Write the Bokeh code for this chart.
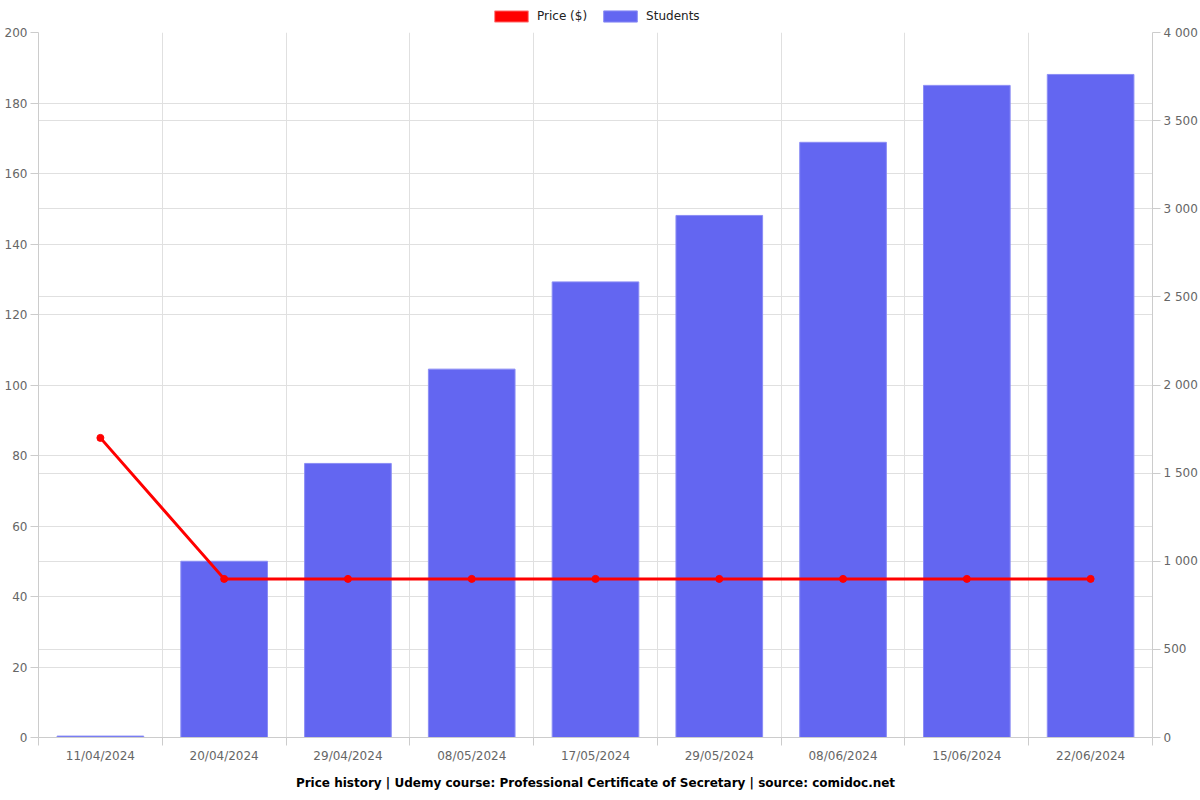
from bokeh.plotting import figure
from bokeh.layouts import column
from bokeh.models import (Range1d, LinearAxis, FixedTicker, Grid, Legend, LegendItem,
                          ColumnDataSource, Title)
from bokeh.embed import file_html
from bokeh.resources import INLINE

dates = ["11/04/2024", "20/04/2024", "29/04/2024", "08/05/2024", "17/05/2024",
         "29/05/2024", "08/06/2024", "15/06/2024", "22/06/2024"]
price = [85, 45, 45, 45, 45, 45, 45, 45, 45]
students = [8, 1000, 1555, 2090, 2585, 2962, 3377, 3700, 3762]
left_ticks = [0, 20, 40, 60, 80, 100, 120, 140, 160, 180, 200]
right_ticks = [0, 500, 1000, 1500, 2000, 2500, 3000, 3500, 4000]
right_labels = ["0", "500", "1 000", "1 500", "2 000", "2 500", "3 000", "3 500", "4 000"]

FONT = "DejaVu Sans"
GRID = "#e0e0e0"
AXIS = "#cccccc"
LABEL = "#666666"
FS = "12px"
PRICE_COLOR = "#FF0000"
BAR_COLOR = "#6366F1"

n = len(dates)
centers = [i + 0.5 for i in range(n)]
src = ColumnDataSource(dict(x=centers, price=price, students=students))

p = figure(width=1200, height=776, output_backend="svg", toolbar_location=None,
           x_range=Range1d(0, n), y_range=Range1d(0, 200),
           min_border_left=38, min_border_right=48, min_border_top=8, min_border_bottom=63)
p.extra_y_ranges = {"right": Range1d(0, 4000)}
p.outline_line_color = None
p.background_fill_color = "white"

bars = p.vbar(x="x", top="students", width=0.70, source=src, y_range_name="right",
              fill_color=BAR_COLOR, line_color="#8b8df5", line_width=1)
line = p.line(x="x", y="price", source=src, line_color=PRICE_COLOR, line_width=3)
p.scatter(x="x", y="price", source=src, size=7, fill_color=PRICE_COLOR, line_color=PRICE_COLOR)

# x axis
xa = p.xaxis[0]
xa.ticker = FixedTicker(ticks=centers, minor_ticks=list(range(n + 1)))
xa.major_label_overrides = {c: d for c, d in zip(centers, dates)}
xa.major_tick_line_color = None
xa.major_tick_out = 8
xa.minor_tick_line_color = AXIS
xa.minor_tick_out = 8
xa.minor_tick_in = 0
xa.axis_line_color = AXIS
xa.major_label_text_font = FONT
xa.major_label_text_font_size = FS
xa.major_label_text_color = LABEL
xa.major_label_standoff = 3

# left axis
ya = p.yaxis[0]
ya.ticker = FixedTicker(ticks=left_ticks)
ya.axis_line_color = AXIS
ya.major_tick_line_color = AXIS
ya.major_tick_out = 8
ya.major_tick_in = 0
ya.minor_tick_line_color = None
ya.major_label_text_font = FONT
ya.major_label_text_font_size = FS
ya.major_label_text_color = LABEL
ya.major_label_standoff = 3

# right axis
ra = LinearAxis(y_range_name="right", ticker=FixedTicker(ticks=right_ticks))
ra.major_label_overrides = {t: l for t, l in zip(right_ticks, right_labels)}
ra.axis_line_color = AXIS
ra.major_tick_line_color = AXIS
ra.major_tick_out = 8
ra.major_tick_in = 0
ra.minor_tick_line_color = None
ra.major_label_text_font = FONT
ra.major_label_text_font_size = FS
ra.major_label_text_color = LABEL
ra.major_label_standoff = 3
p.add_layout(ra, "right")

# grids
p.xgrid.ticker = FixedTicker(ticks=list(range(n + 1)))
p.xgrid.grid_line_color = GRID
p.ygrid.grid_line_color = GRID
p.add_layout(Grid(dimension=1, ticker=FixedTicker(ticks=right_ticks), y_range_name="right",
                  grid_line_color=GRID))

title = Title(text="Price history | Udemy course: Professional Certificate of Secretary | source: comidoc.net",
              align="center", text_font=FONT, text_font_size=FS, text_font_style="bold",
              text_color="#000000", standoff=16, offset=0)
p.add_layout(title, "below")

# legend strip above the chart
lf = figure(width=1200, height=24, output_backend="svg", toolbar_location=None,
            x_range=Range1d(0, 1), y_range=Range1d(0, 1),
            x_axis_location=None, y_axis_location=None, min_border=0)
lf.outline_line_color = None
lf.grid.visible = False
d1 = lf.quad(left=[-3], right=[-2], top=[1], bottom=[0], fill_color=PRICE_COLOR, line_color="#FF8080")
d2 = lf.quad(left=[-3], right=[-2], top=[1], bottom=[0], fill_color=BAR_COLOR, line_color="#8b8df5")
legend = Legend(items=[LegendItem(label="Price ($)", renderers=[d1]),
                       LegendItem(label="Students", renderers=[d2])],
                orientation="horizontal", location=(452, 1),
                label_text_font=FONT, label_text_font_size=FS, label_text_color="#222222",
                glyph_width=42, glyph_height=14, label_standoff=5, spacing=12,
                padding=0, margin=0, border_line_color=None, background_fill_alpha=0,
                label_height=14)
lf.add_layout(legend, "center")

layout = column(lf, p, spacing=0)
open("out.html", "w").write(file_html(layout, INLINE))
